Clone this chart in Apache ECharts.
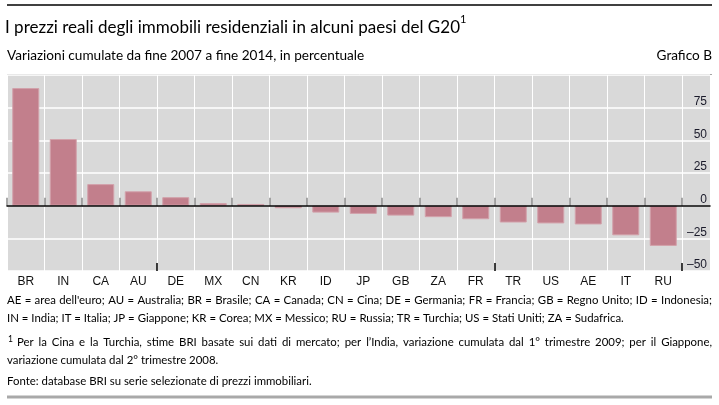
<!DOCTYPE html>
<html><head><meta charset="utf-8">
<script src="https://cdn.jsdelivr.net/npm/echarts@6/dist/echarts.min.js"></script>
<style>html,body{margin:0;padding:0;background:#fff}#c{width:719px;height:405px}</style>
</head><body><div id="c"></div>
<script>
const categories = ['BR','IN','CA','AU','DE','MX','CN','KR','ID','JP','GB','ZA','FR','TR','US','AE','IT','RU'];
const values = [90, 51, 16.5, 11, 6.5, 2, 1.3, -2, -5.3, -6.3, -7.6, -8.8, -10.4, -12.9, -13.6, -14.4, -22.7, -30.8];
const yMin = -50, yMax = 100, yStep = 25;
const yTickLabels = ['–50','–25','0','25','50','75'];

const FONT = 'Lato';
const AXFONT = '"Liberation Sans", Arial, sans-serif';
const NOTE = 11.4;

function yLabel(v){
  if (v >= yMax) return '';
  const s = v < 0 ? '–' + Math.abs(v) : String(v);
  return yTickLabels.indexOf(s) >= 0 ? s : '';
}

const mctx = document.createElement('canvas').getContext('2d');
function justified(text, x0, x1, y, size) {
  const words = text.split(' ');
  mctx.font = size + 'px ' + FONT;
  const widths = words.map(w => mctx.measureText(w).width);
  const total = widths.reduce((a, b) => a + b, 0);
  const gap = (x1 - x0 - total) / (words.length - 1);
  const out = [];
  let x = x0;
  words.forEach((w, i) => {
    out.push({type:'text', x: x, y: y, style:{text:w, fontSize:size, fontFamily:FONT, fill:'#000', verticalAlign:'top', align:'left'}});
    x += widths[i] + gap;
  });
  return out;
}
function plain(text, x, y, size) {
  return {type:'text', x: x, y: y, style:{text:text, fontSize:size, fontFamily:FONT, fill:'#000', verticalAlign:'top', align:'left'}};
}

const notes1 = "AE = area dell'euro; AU = Australia; BR = Brasile; CA = Canada; CN = Cina; DE = Germania; FR = Francia; GB = Regno Unito; ID = Indonesia;";
const notes2 = 'IN = India; IT = Italia; JP = Giappone; KR = Corea; MX = Messico; RU = Russia; TR = Turchia; US = Stati Uniti; ZA = Sudafrica.';
const notes3 = 'Per la Cina e la Turchia, stime BRI basate sui dati di mercato; per l’India, variazione cumulata dal 1° trimestre 2009; per il Giappone,';
const notes4 = 'variazione cumulata dal 2° trimestre 2008.';
const source = 'Fonte: database BRI su serie selezionate di prezzi immobiliari.';

const graphics = [
  {type:'line', shape:{x1:7, y1:5, x2:712, y2:5}, style:{stroke:'#000', lineWidth:1.5}},
  {type:'text', x:5, y:14, style:{
    text:'{t|I prezzi reali degli immobili residenziali in alcuni paesi del G20}{s|1}',
    verticalAlign:'top',
    rich:{t:{fontSize:17, fontFamily:FONT, fill:'#000', lineHeight:22, verticalAlign:'bottom'},
          s:{fontSize:11, fontFamily:FONT, fill:'#000', lineHeight:22, verticalAlign:'top'}}}},
  plain('Variazioni cumulate da fine 2007 a fine 2014, in percentuale', 7, 49, 13.6),
  {type:'text', x:712, y:49, style:{text:'Grafico B', fontSize:13.6, fontFamily:FONT, fill:'#000', verticalAlign:'top', align:'right'}},
  {type:'line', shape:{x1:7, y1:74.5, x2:712, y2:74.5}, style:{stroke:'#a6a6a6', lineWidth:1}},
  ...justified(notes1, 7, 712, 295, NOTE),
  plain(notes2, 7, 313, NOTE),
  plain('1', 8, 335, 8.5),
  ...justified(notes3, 17, 712, 337, NOTE),
  plain(notes4, 7, 355, NOTE),
  plain(source, 7, 376, NOTE),
  {type:'line', shape:{x1:7, y1:397, x2:712, y2:397}, style:{stroke:'#a9a9a9', lineWidth:3}}
];

const chart = echarts.init(document.getElementById('c'), null, {renderer:'canvas'});
chart.setOption({
  animation: false,
  backgroundColor: '#fff',
  grid: [
    {left: 7, right: 37, top: 75, bottom: 134, containLabel: false},
    {left: 7, right: 9, top: 75, bottom: 134, show: true, backgroundColor: '#d9d9d9', borderWidth: 0, z: -1}
  ],
  xAxis: [
    {type:'category', gridIndex:0, data: categories, boundaryGap:true,
     axisLine:{show:false},
     axisTick:{show:true, inside:true, length:8, interval:0, lineStyle:{color:'#8c8c8c', width:1.5}},
     axisLabel:{interval:0, margin:5, color:'#111', fontSize:12, fontFamily:AXFONT},
     splitLine:{show:true, interval:0, lineStyle:{color:'#ffffff', width:1}}},
    {type:'value', gridIndex:1, min:0, max:1, z:3,
     axisLine:{show:true, onZero:true, lineStyle:{color:'#000', width:1.5}},
     axisTick:{show:false}, axisLabel:{show:false}, splitLine:{show:false}},
    {type:'category', gridIndex:0, data: categories, boundaryGap:true, position:'bottom', z:4,
     axisLine:{show:false},
     axisTick:{show:true, inside:true, length:8, interval:function(i){return i===4||i===13;}, lineStyle:{color:'#000', width:1.5}},
     axisLabel:{show:false}, splitLine:{show:false}}
  ],
  yAxis: [
    {type:'value', gridIndex:0, position:'right', min:yMin, max:yMax, interval:yStep,
     axisLine:{show:false}, axisTick:{show:false}, splitLine:{show:false},
     axisLabel:{show:true, formatter:yLabel, align:'right', verticalAlign:'bottom', margin:25,
       color:'#1a1a2a', fontSize:12, fontFamily:AXFONT}},
    {type:'value', gridIndex:1, min:yMin, max:yMax, interval:yStep,
     axisLine:{show:false}, axisTick:{show:false}, axisLabel:{show:false},
     splitLine:{show:true, lineStyle:{color:'#ffffff', width:1.5}}}
  ],
  series: [{
    type:'bar', xAxisIndex:0, yAxisIndex:0, data: values, barCategoryGap:'28%',
    itemStyle:{color:'#c27f8c', borderColor:'#d2a1aa', borderWidth:1},
    silent:true
  }],
  graphic: graphics
});
</script></body></html>
